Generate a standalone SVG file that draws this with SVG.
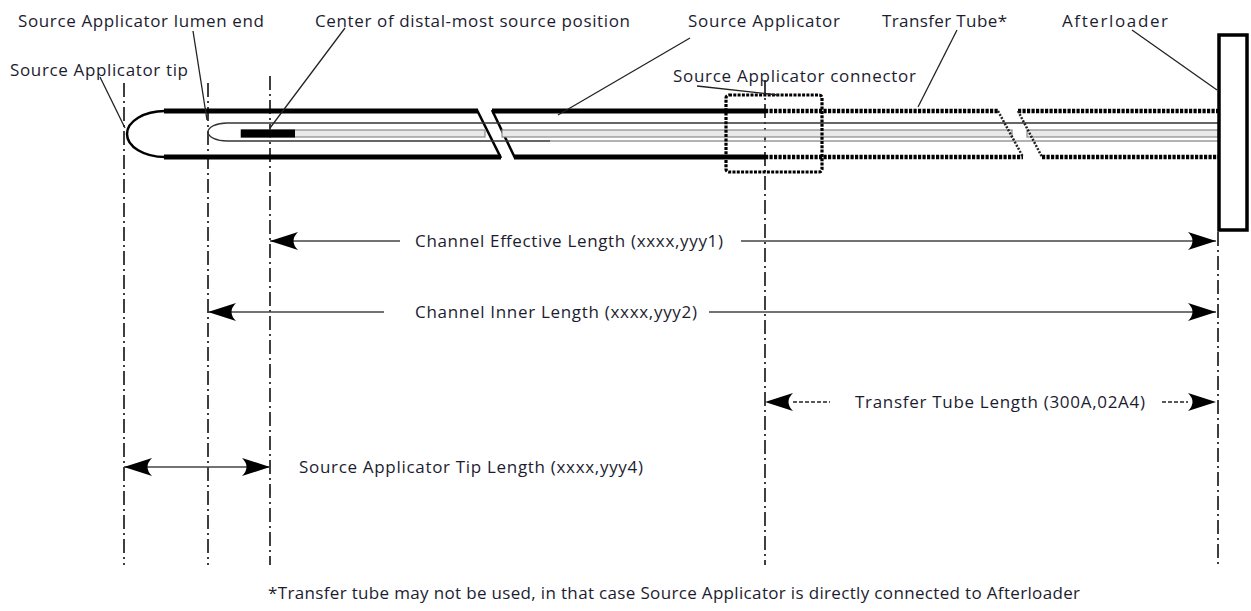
<svg xmlns="http://www.w3.org/2000/svg" width="1251" height="611" viewBox="0 0 1251 611">
<defs>
<style>
.t{font-family:"Open Sans","Liberation Sans",sans-serif;font-size:17px;fill:#1c1c30}
.lead{stroke:#222;stroke-width:1.3;fill:none}
.axis{stroke:#000;stroke-width:1.5;stroke-dasharray:14 4 2 4;fill:none}
.thick{stroke:#000;stroke-width:5;fill:none}
.diag{stroke:#000;stroke-width:2.5;fill:none}
.thin{stroke:#333;stroke-width:1.3;fill:none}
.rod{fill:#e9e9e9;stroke:#8a8a8a;stroke-width:1.2}
.dot{stroke:#000;stroke-width:4.5;stroke-dasharray:3.2 1.3;fill:none}
.dotd{stroke:#222;stroke-width:2.5;stroke-dasharray:2 1.5;fill:none}
.dim{stroke:#444;stroke-width:1.5;fill:none}
.dimd{stroke:#222;stroke-width:1.4;stroke-dasharray:4 2;fill:none}
</style>
<marker id="ah" markerUnits="userSpaceOnUse" markerWidth="30" markerHeight="20" viewBox="-29 -10 30 20" refX="0" refY="0" orient="auto-start-reverse">
<path d="M0,0 L-28,-9 Q-19,0 -28,9 Z" fill="#000"/>
</marker>
</defs>

<g id="axes">
<line class="axis" x1="124" y1="83" x2="124" y2="565"/>
<line class="axis" x1="208" y1="83" x2="208" y2="565"/>
<line class="axis" x1="270" y1="76" x2="270" y2="565"/>
<line class="axis" x1="765" y1="80" x2="765" y2="565"/>
<line class="axis" x1="1218" y1="232" x2="1218" y2="565"/>
</g>

<g id="source-applicator">
<path class="diag" d="M165,111 A38,23 0 0 0 165,157"/>
<line class="thick" x1="164" y1="111" x2="478" y2="111"/>
<line class="thick" x1="164" y1="157" x2="501" y2="157"/>
<line class="diag" x1="477" y1="110" x2="501" y2="158"/>
<line class="thick" x1="492" y1="111" x2="765" y2="111"/>
<line class="thick" x1="514" y1="157" x2="765" y2="157"/>
<line class="diag" x1="492" y1="110" x2="515" y2="158"/>
<path class="thin" d="M227,123 A19,9 0 0 0 227,141"/>
<line class="thin" x1="227" y1="123" x2="1218" y2="123"/>
<line class="thin" x1="227" y1="141" x2="550" y2="141"/>
<line stroke="#999" stroke-width="1.3" x1="550" y1="141" x2="1218" y2="141"/>
<rect class="rod" x="241" y="130" width="244" height="7"/>
<rect class="rod" x="502" y="130" width="510" height="7"/>
<rect class="rod" x="1027" y="130" width="191" height="7"/>
<rect x="241" y="129.5" width="54" height="8" fill="#000"/>
</g>

<g id="connector">
<rect x="726" y="95" width="96" height="77" rx="3" fill="none" stroke="#000" stroke-width="3.2" stroke-dasharray="3 1.3"/>
</g>

<g id="transfer-tube">
<line class="dot" x1="765" y1="111" x2="998" y2="111"/>
<line class="dot" x1="765" y1="157" x2="1023" y2="157"/>
<line class="dotd" x1="998" y1="111" x2="1023" y2="157"/>
<line class="dot" x1="1018" y1="111" x2="1218" y2="111"/>
<line class="dot" x1="1042" y1="157" x2="1218" y2="157"/>
<line class="dotd" x1="1018" y1="111" x2="1042" y2="157"/>
</g>

<g id="afterloader">
<rect x="1219" y="35" width="28" height="195" fill="#fff" stroke="#000" stroke-width="3.5"/>
</g>

<g id="connectors">
<line class="lead" x1="100" y1="77" x2="125" y2="128"/>
<line class="lead" x1="193" y1="31" x2="207" y2="120"/>
<line class="lead" x1="345" y1="28" x2="270" y2="128"/>
<line class="lead" x1="690" y1="38" x2="558" y2="115"/>
<line class="lead" x1="697" y1="86" x2="778" y2="95"/>
<line class="lead" x1="957" y1="30" x2="918" y2="107"/>
<line class="lead" x1="1132" y1="30" x2="1217" y2="90"/>

<line class="dim" x1="270" y1="241" x2="400" y2="241" marker-start="url(#ah)"/>
<line class="dim" x1="741" y1="241" x2="1216" y2="241" marker-end="url(#ah)"/>
<line class="dim" x1="208" y1="312" x2="384" y2="312" marker-start="url(#ah)"/>
<line class="dim" x1="709" y1="312" x2="1216" y2="312" marker-end="url(#ah)"/>
<line class="dimd" x1="793" y1="402" x2="830" y2="402"/>
<path d="M765,402 L793,393 Q784,402 793,411 Z" fill="#000"/>
<line class="dimd" x1="1162" y1="402" x2="1188" y2="402"/>
<path d="M1216,402 L1188,393 Q1197,402 1188,411 Z" fill="#000"/>
<line class="dim" x1="124" y1="467" x2="270" y2="467" marker-start="url(#ah)" marker-end="url(#ah)"/>
</g>

<g id="labels">
<text class="t" x="18" y="27" textLength="246">Source Applicator lumen end</text>
<text class="t" x="315" y="27" textLength="315">Center of distal-most source position</text>
<text class="t" x="688" y="27" textLength="152">Source Applicator</text>
<text class="t" x="882" y="27" textLength="125">Transfer Tube*</text>
<text class="t" x="1062" y="27" textLength="106">Afterloader</text>
<text class="t" x="10" y="76" textLength="178">Source Applicator tip</text>
<text class="t" x="673" y="82" textLength="243">Source Applicator connector</text>
<text class="t" x="415" y="247" textLength="308">Channel Effective Length (xxxx,yyy1)</text>
<text class="t" x="415" y="318" textLength="282">Channel Inner Length (xxxx,yyy2)</text>
<text class="t" x="855" y="408" textLength="290">Transfer Tube Length (300A,02A4)</text>
<text class="t" x="299" y="473" textLength="344">Source Applicator Tip Length (xxxx,yyy4)</text>
<text class="t" x="268" y="599" textLength="812">*Transfer tube may not be used, in that case Source Applicator is directly connected to Afterloader</text>
</g>
</svg>
